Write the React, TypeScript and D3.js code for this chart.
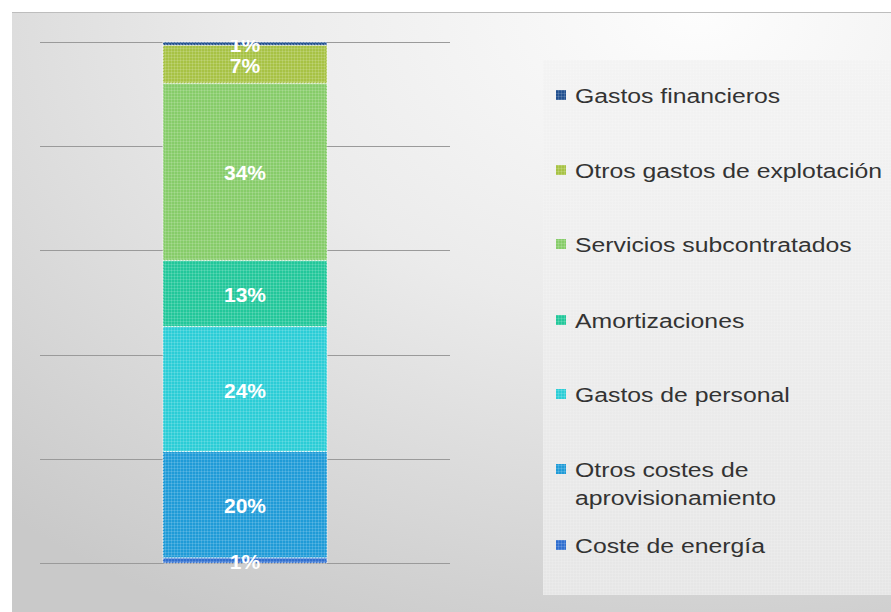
import React from "react";
import * as d3 from "d3";

const categories = [
  "Coste de energía",
  "Otros costes de aprovisionamiento",
  "Gastos de personal",
  "Amortizaciones",
  "Servicios subcontratados",
  "Otros gastos de explotación",
  "Gastos financieros",
];
const values = [1.0, 20.4, 24.0, 12.7, 34.0, 7.3, 0.6];
const colors = ["#2f6ecf", "#1f9bd7", "#2bcdd6", "#22c79a", "#86cc69", "#a7c244", "#22508f"];
const legendLines: string[][] = [
  ["Coste de energía"],
  ["Otros costes de", "aprovisionamiento"],
  ["Gastos de personal"],
  ["Amortizaciones"],
  ["Servicios subcontratados"],
  ["Otros gastos de explotación"],
  ["Gastos financieros"],
];
const yTicks = [0, 20, 40, 60, 80, 100];

export default function App() {
  const W = 891, H = 612;
  const y = d3.scaleLinear().domain([0, 100]).range([563, 42]);
  const x = d3.scaleBand<string>().domain(["total"]).range([40, 450]).padding(0.4286);
  const row: Record<string, number> = {};
  categories.forEach((c, i) => (row[c] = values[i]));
  const series = d3.stack<Record<string, number>>().keys(categories)([row]);
  const bx = x("total") as number;
  const bw = x.bandwidth();
  const font = "Liberation Sans, Arial, sans-serif";

  const legendOrder = categories.map((_, i) => i).reverse();
  const legendY = [95, 170, 244, 320, 394, 469, 545];

  return (
    <svg width={W} height={H} style={{ position: "absolute", left: 0, top: 0 }} fontFamily={font}>
      <defs>
        <radialGradient id="bg" cx="0.78" cy="0" r="1.15" fx="0.78" fy="0">
          <stop offset="0" stopColor="#fdfdfd" />
          <stop offset="0.45" stopColor="#ebebeb" />
          <stop offset="1" stopColor="#c9c9c9" />
        </radialGradient>
        <linearGradient id="lg" x1="0" y1="0" x2="0" y2="1">
          <stop offset="0" stopColor="#f3f3f3" />
          <stop offset="1" stopColor="#e6e6e6" />
        </linearGradient>
        <pattern id="tex" width="3" height="3" patternUnits="userSpaceOnUse">
          <path d="M0 0.5H3M0.5 0V3" stroke="#ffffff" strokeOpacity="0.14" strokeWidth="1" />
        </pattern>
        <clipPath id="plotClip">
          <rect x={0} y={40} width={W} height={H - 40} />
        </clipPath>
      </defs>
      <rect x={0} y={0} width={W} height={H} fill="#ffffff" />
      <rect x={12} y={12} width={W - 12} height={H - 12} fill="url(#bg)" />
      <line x1={12} x2={W} y1={12.5} y2={12.5} stroke="#bdbdbd" />
      {yTicks.map((t) => (
        <line key={t} x1={40} x2={450} y1={Math.round(y(t)) + 0.5} y2={Math.round(y(t)) + 0.5} stroke="#9a9a9a" strokeWidth={1.2} />
      ))}
      <g>
        {series.map((s, i) => {
          const d = s[0];
          const y0 = y(d[0]);
          const y1 = y(d[1]);
          return (
            <g key={s.key}>
              <rect x={bx} y={y1} width={bw} height={y0 - y1} fill={colors[i]} />
              <rect x={bx} y={y1} width={bw} height={y0 - y1} fill="url(#tex)" />
              <rect x={bx} y={y1} width={bw} height={y0 - y1} fill="none" stroke="#ffffff" strokeOpacity={0.75} strokeWidth={1} strokeDasharray="2,1" />
            </g>
          );
        })}
      </g>
      <g clipPath="url(#plotClip)">
        {series.map((s, i) => {
          const d = s[0];
          const cy = (y(d[0]) + y(d[1])) / 2;
          return (
            <text key={s.key} x={bx + bw / 2} y={cy + 1} dy="0.36em" textAnchor="middle" fill="#ffffff" fontWeight="bold" fontSize={21}>
              {Math.round(values[i])}%
            </text>
          );
        })}
      </g>
      <rect x={543} y={60} width={W - 543} height={535} fill="url(#lg)" />
      <rect x={543} y={60} width={W - 543} height={535} fill="url(#tex)" opacity={0.8} />
      {legendOrder.map((ci, k) => {
        const ly = legendY[k];
        return (
          <g key={ci}>
            <rect x={556} y={ly - 5} width={10} height={10} fill={colors[ci]} />
            <rect x={556} y={ly - 5} width={10} height={10} fill="url(#tex)" />
            {legendLines[ci].map((ln, j) => (
              <text key={j} transform={`translate(575,${ly + j * 28}) scale(1.18,1)`} dy="0.36em" fontSize={21} fill="#333333">
                {ln}
              </text>
            ))}
          </g>
        );
      })}
    </svg>
  );
}
